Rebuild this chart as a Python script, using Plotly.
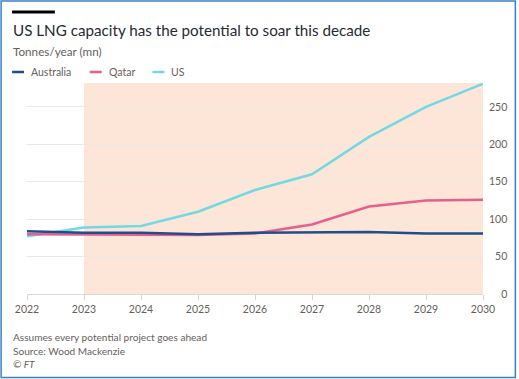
import plotly.graph_objects as go

years = [2022, 2023, 2024, 2025, 2026, 2027, 2028, 2029, 2030]
australia = [84, 82, 82, 80, 82, 83, 83, 81, 81]
qatar = [80, 80, 80, 79, 81, 93, 117, 125, 126]
us = [77, 89, 91, 110, 139, 160, 210, 250, 281]

y_ticks = [0, 50, 100, 150, 200, 250]
y_ticktext = ["\u2007\u20070", "\u200750", "100", "150", "200", "250"]
x_ticks = years

shade_start, shade_end = 2023, 2030

title = "US LNG capacity has the potential to soar this decade"
subtitle = "Tonnes/year (mn)"
notes = ["Assumes every potential project goes ahead", "Source: Wood Mackenzie", "\u00a9 FT"]

series = [("Australia", australia, "#1e4e8c"),
          ("Qatar", qatar, "#e5608c"),
          ("US", us, "#72d9e3")]

W, H = 519, 379
L, R, T, B = 27, 34, 83, 85
pw, ph = W - L - R, H - T - B

FONT = "Lato, 'Open Sans', sans-serif"


def px_x(x):
    return (x - L) / pw


def px_y(y):
    return 1 - (y - T) / ph


fig = go.Figure()
for name, vals, col in reversed(series):
    fig.add_trace(go.Scatter(x=years, y=vals, name=name, mode="lines",
                             line=dict(color=col, width=2.5), showlegend=False,
                             hoverinfo="skip"))

shapes = [
    dict(type="rect", xref="x", yref="paper", x0=shade_start, x1=shade_end, y0=0, y1=1,
         fillcolor="#fde6d8", line=dict(width=0), layer="below"),
    dict(type="rect", xref="paper", yref="paper",
         x0=px_x(12), x1=px_x(55), y0=px_y(13.5), y1=px_y(10.5),
         fillcolor="#000000", line=dict(width=0)),
    dict(type="rect", xref="paper", yref="paper",
         x0=px_x(1), x1=px_x(W - 1.5), y0=px_y(H - 1.5), y1=px_y(1),
         fillcolor="rgba(0,0,0,0)", line=dict(color="#3b7fc4", width=1.5)),
]

annotations = [
    dict(text=title, xref="paper", yref="paper", x=px_x(11), y=px_y(30),
         xanchor="left", yanchor="middle", showarrow=False,
         font=dict(family=FONT, size=15.2, color="#262a33")),
    dict(text=subtitle, xref="paper", yref="paper", x=px_x(11), y=px_y(51),
         xanchor="left", yanchor="middle", showarrow=False,
         font=dict(family=FONT, size=11.7, color="#66605c")),
]
for i, n in enumerate(notes):
    annotations.append(dict(
        text=n if i < 2 else "<i>" + n + "</i>", xref="paper", yref="paper",
        x=px_x(11), y=px_y(337 + 13.5 * i),
        xanchor="left", yanchor="middle", showarrow=False,
        font=dict(family=FONT, size=10.1, color="#66605c")))

leg_x = [12, 90, 153]
for (name, vals, col), lx in zip(series, leg_x):
    shapes.append(dict(type="line", xref="paper", yref="paper",
                       x0=px_x(lx), x1=px_x(lx + 12), y0=px_y(72), y1=px_y(72),
                       line=dict(color=col, width=2.5)))
    annotations.append(dict(text=name, xref="paper", yref="paper",
                            x=px_x(lx + 17), y=px_y(72), xanchor="left", yanchor="middle",
                            showarrow=False, font=dict(family=FONT, size=10.5, color="#66605c")))

fig.update_layout(
    width=W, height=H,
    margin=dict(l=L, r=R, t=T, b=B),
    paper_bgcolor="white", plot_bgcolor="white",
    font=dict(family=FONT, size=11, color="#66605c"),
    showlegend=False,
    xaxis=dict(range=[2022, 2030], tickvals=x_ticks, showgrid=False, zeroline=False,
               ticks="outside", ticklen=5, tickcolor="#d9d5d1", tickwidth=1,
               tickfont=dict(size=10.5, color="#66605c"), showline=False,
               fixedrange=True),
    yaxis=dict(range=[0, 282], side="right", tickvals=y_ticks, ticktext=y_ticktext,
               showgrid=True, gridcolor="#ebe8e5", gridwidth=1, zeroline=True,
               zerolinecolor="#dcd8d4", zerolinewidth=1, showline=False, ticks="",
               tickfont=dict(size=10.5, color="#66605c"), ticklabelstandoff=5,
               fixedrange=True),
    shapes=shapes,
    annotations=annotations,
)

fig.write_html("out.html", config={"displayModeBar": False},
               post_script="document.body.style.margin='0';document.body.style.overflow='hidden';")
